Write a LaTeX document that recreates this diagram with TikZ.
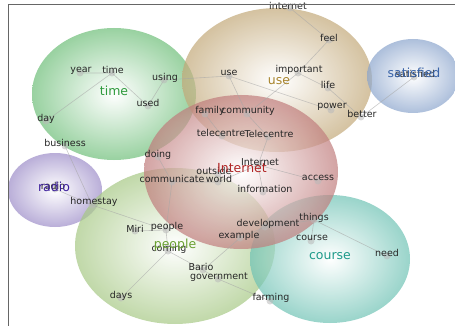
\documentclass[tikz,border=0pt]{standalone}
\usepackage{fontspec}
\setmainfont{DejaVu Sans}
\usetikzlibrary{calc}

\definecolor{timeC}{HTML}{6DBE78}
\definecolor{useC}{HTML}{C2A878}
\definecolor{satC}{HTML}{8AA4CC}
\definecolor{inetC}{HTML}{C07C7C}
\definecolor{radioC}{HTML}{9C8CC8}
\definecolor{peopleC}{HTML}{A6C884}
\definecolor{courseC}{HTML}{6EC2B4}
\definecolor{timeT}{HTML}{2E9A3C}
\definecolor{useT}{HTML}{A8842C}
\definecolor{satT}{HTML}{3A64A8}
\definecolor{inetT}{HTML}{B02424}
\definecolor{radioT}{HTML}{3C1E9C}
\definecolor{peopleT}{HTML}{6AA032}
\definecolor{courseT}{HTML}{1E9A8A}

\tikzset{
  word/.style={text=black!85, font=\fontsize{9.5}{10}\selectfont, inner sep=0pt},
  theme/.style={font=\fontsize{12.5}{13}\selectfont, inner sep=0pt},
  blob/.style={fill=gray!55, opacity=0.55},
  link/.style={draw=gray!70, line width=0.6pt, opacity=0.6},
  glow/.style={opacity=0.7, inner color=white, outer color=#1},
  frame/.style={draw=gray!80!black, line width=0.8pt}
}

\begin{document}
\begin{tikzpicture}[x=1pt,y=-1pt]
\useasboundingbox (0,0) rectangle (455,326);

% Theme circles
\shade[glow=timeC]    (114,94)  ellipse (82 and 66);
\shade[glow=useC]     (277,80)  ellipse (95 and 72);
\shade[glow=satC]     (413,76)  ellipse (46 and 37);
\shade[glow=radioC]   (55,190)  ellipse (47 and 37);
\shade[glow=peopleC]  (175,246) ellipse (100 and 78);
\shade[glow=courseC]  (330,259) ellipse (80 and 64);
\shade[glow=inetC]    (241,172) ellipse (97 and 77);

% Concept positions
\coordinate (year) at (80,73);
\coordinate (timew) at (112,73);
\coordinate (using) at (164,80);
\coordinate (used) at (148,106);
\coordinate (day) at (46,121);
\coordinate (business) at (65,146);
\coordinate (doing) at (158,157);
\coordinate (usew) at (229,76);
\coordinate (inettop) at (290,8);
\coordinate (feel) at (329,40);
\coordinate (important) at (298,73);
\coordinate (life) at (328,88);
\coordinate (power) at (331,110);
\coordinate (better) at (361,117);
\coordinate (satisw) at (414,77);
\coordinate (family) at (205,114);
\coordinate (community) at (247,114);
\coordinate (telecentreA) at (222,136);
\coordinate (telecentreB) at (268,137);
\coordinate (inetw) at (258,165);
\coordinate (outside) at (218,174);
\coordinate (communicate) at (172,182);
\coordinate (world) at (218,182);
\coordinate (information) at (263,192);
\coordinate (access) at (318,181);
\coordinate (radiow) at (55,189);
\coordinate (homestay) at (92,205);
\coordinate (Miri) at (135,231);
\coordinate (peoplew) at (166,230);
\coordinate (coming) at (168,251);
\coordinate (Bario) at (203,270);
\coordinate (government) at (218,279);
\coordinate (days) at (121,298);
\coordinate (example) at (240,238);
\coordinate (development) at (265,227);
\coordinate (things) at (314,220);
\coordinate (coursew) at (311,241);
\coordinate (need) at (387,256);
\coordinate (farming) at (270,301);

% Links
\draw[link] (year) -- (timew) -- (used) -- (using) -- (usew);
\draw[link] (timew) -- (day);
\draw[link] (business) -- (homestay);
\draw[link] (usew) -- (power);
\draw[link] (usew) -- (community) -- (important) -- (feel) -- (inettop);
\draw[link] (important) -- (life) -- (better) -- (satisw);
\draw[link] (family) -- (telecentreA);
\draw[link] (community) -- (telecentreB) -- (inetw);
\draw[link] (inetw) -- (access);
\draw[link] (inetw) -- (information);
\draw[link] (inetw) -- (world) -- (communicate);
\draw[link] (doing) -- (communicate) -- (peoplew);
\draw[link] (radiow) -- (homestay) -- (peoplew);
\draw[link] (Miri) -- (peoplew) -- (coming) -- (days);
\draw[link] (coming) -- (Bario) -- (example) -- (development) -- (things);
\draw[link] (Bario) -- (government) -- (farming);
\draw[link] (coursew) -- (things) -- (need);

\foreach \c in {year,timew,using,used,day,business,doing,usew,inettop,feel,
  important,life,power,better,satisw,family,community,telecentreA,telecentreB,
  inetw,outside,communicate,world,information,access,radiow,homestay,Miri,
  peoplew,coming,Bario,government,days,example,development,things,coursew,
  need,farming}
  \fill[blob] (\c) circle (3.5);

% Words
\node[word] (year-w) at (81,71) {year};
\node[word] (timew-w) at (113,70) {time};
\node[word] (using-w) at (165,78) {using};
\node[word] (used-w) at (148,103) {used};
\node[word] (day-w) at (46,119) {day};
\node[word] (business-w) at (65,143) {business};
\node[word] (doing-w) at (158,155) {doing};
\node[word] (usew-w) at (229,73) {use};
\node[word] (inettop-w) at (288,6) {internet};
\node[word] (feel-w) at (329,38) {feel};
\node[word] (important-w) at (299,70) {important};
\node[word] (life-w) at (328,85) {life};
\node[word] (power-w) at (332,107) {power};
\node[word] (better-w) at (362,114) {better};
\node[word] (satisw-w) at (415,74) {satisfied};
\node[word] (family-w) at (210,111) {family};
\node[word] (community-w) at (248,111) {community};
\node[word] (telecentreA-w) at (221,133) {telecentre};
\node[word] (telecentreB-w) at (269,134) {Telecentre};
\node[word] (inetw-w) at (260,162) {Internet};
\node[word] (outside-w) at (214,171) {outside};
\node[word] (communicate-w) at (172,179) {communicate};
\node[word] (world-w) at (219,179) {world};
\node[word] (information-w) at (265,189) {information};
\node[word] (access-w) at (318,178) {access};
\node[word] (radiow-w) at (53,186) {radio};
\node[word] (homestay-w) at (94,202) {homestay};
\node[word] (Miri-w) at (135,229) {Miri};
\node[word] (peoplew-w) at (167,227) {people};
\node[word] (coming-w) at (169,249) {coming};
\node[word] (Bario-w) at (201,267) {Bario};
\node[word] (government-w) at (219,277) {government};
\node[word] (days-w) at (121,296) {days};
\node[word] (example-w) at (239,236) {example};
\node[word] (development-w) at (268,224) {development};
\node[word] (things-w) at (314,218) {things};
\node[word] (coursew-w) at (312,238) {course};
\node[word] (need-w) at (387,253) {need};
\node[word] (farming-w) at (271,298) {farming};

% Theme labels
\node[theme,text=timeT] (time-t) at (114,91) {time};
\node[theme,text=useT] (use-t) at (279,81) {use};
\node[theme,text=satT] (sat-t) at (414,73) {satisfied};
\node[theme,text=inetT] (inet-t) at (242,168) {Internet};
\node[theme,text=radioT] (radio-t) at (54,187) {radio};
\node[theme,text=peopleT] (people-t) at (175,245) {people};
\node[theme,text=courseT] (course-t) at (330,256) {course};

% Frame
\draw[frame] (8,326) -- (8,4) -- (455,4);
\end{tikzpicture}
\end{document}
